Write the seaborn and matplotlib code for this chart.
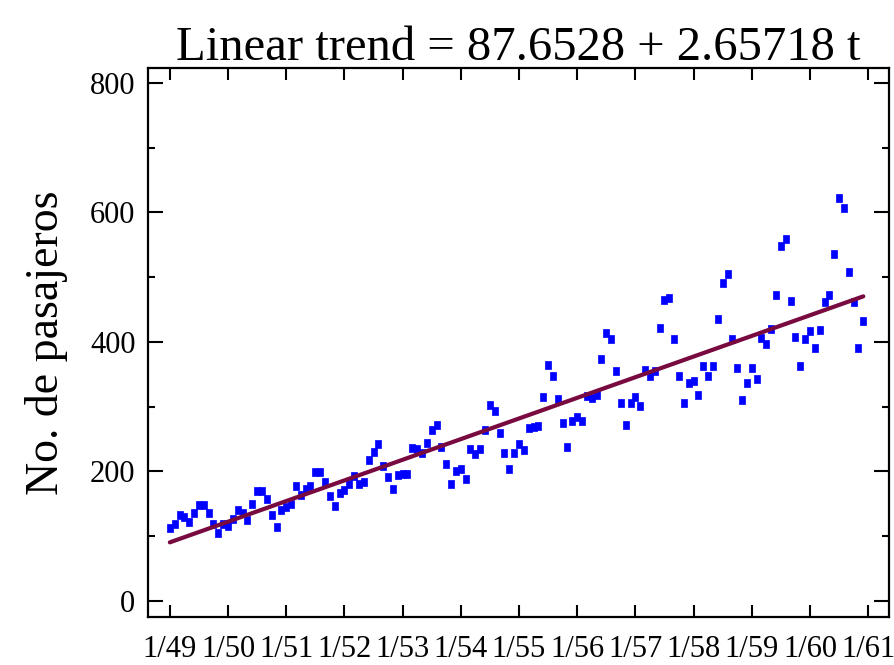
import numpy as np
import pandas as pd
import matplotlib
matplotlib.use("Agg")
import matplotlib.pyplot as plt
import seaborn as sns
from matplotlib.ticker import MultipleLocator

# -------------------------------
# 1. Data: monthly passengers, 1/49 .. 12/60
# -------------------------------
months = list(range(1, 145))
passengers = [
    112, 118, 132, 129, 121, 135, 148, 148, 136, 119, 104, 118,
    115, 126, 141, 135, 125, 149, 170, 170, 158, 133, 114, 140,
    145, 150, 178, 163, 172, 178, 199, 199, 184, 162, 146, 166,
    171, 180, 193, 181, 183, 218, 230, 242, 209, 191, 172, 194,
    196, 196, 236, 235, 229, 243, 264, 272, 237, 211, 180, 201,
    204, 188, 235, 227, 234, 264, 302, 293, 259, 229, 203, 229,
    242, 233, 267, 269, 270, 315, 364, 347, 312, 274, 237, 278,
    284, 277, 317, 313, 318, 374, 413, 405, 355, 306, 271, 306,
    315, 301, 356, 348, 355, 422, 465, 467, 404, 347, 305, 336,
    340, 318, 362, 348, 363, 435, 491, 505, 404, 359, 310, 337,
    360, 342, 406, 396, 420, 472, 548, 559, 463, 407, 362, 405,
    417, 391, 419, 461, 472, 535, 622, 606, 508, 461, 390, 432,
]
tick_pos = [1, 13, 25, 37, 49, 61, 73, 85, 97, 109, 121, 133, 145]
tick_labels = ["1/49", "1/50", "1/51", "1/52", "1/53", "1/54", "1/55",
               "1/56", "1/57", "1/58", "1/59", "1/60", "1/61"]

df = pd.DataFrame({"t": months, "passengers": passengers})

# -------------------------------
# 2. Plot
# -------------------------------
sns.set_style("ticks")
plt.rcParams["font.family"] = ["Liberation Serif", "DejaVu Serif"]
plt.rcParams.update({"text.color": "black", "axes.labelcolor": "black",
                     "xtick.color": "black", "ytick.color": "black",
                     "axes.edgecolor": "black"})

fig = plt.figure(figsize=(8.95, 6.65), dpi=100)
ax = fig.add_axes([148 / 895, 48 / 665, (889 - 148) / 895, (617 - 68) / 665])

# small upright rectangle, like the original marks
rect = [(-0.37, -0.5), (0.37, -0.5), (0.37, 0.5), (-0.37, 0.5), (-0.37, -0.5)]
sns.regplot(data=df, x="t", y="passengers", ci=None, ax=ax,
            marker=rect,
            scatter_kws={"color": "#0000ff", "s": 36, "linewidths": 0.5,
                         "edgecolors": "#0000ff", "alpha": 1},
            line_kws={"color": "#780a40", "lw": 3.0})

ax.set_xlim(-3.5, 149.3)
ax.set_ylim(-25, 823)
ax.set_xticks(tick_pos)
ax.set_xticklabels(tick_labels)
ax.yaxis.set_major_locator(MultipleLocator(200))
ax.yaxis.set_minor_locator(MultipleLocator(100))

ax.set_xlabel("")
ax.set_ylabel("No. de pasajeros", fontsize=33, labelpad=16)
ax.set_title("Linear trend = 87.6528 + 2.65718 t", fontsize=35, pad=6)

for s in ax.spines.values():
    s.set_visible(True)
    s.set_linewidth(1.6)
    s.set_color("black")

ax.tick_params(axis="x", which="major", direction="in", length=8.5, width=1.5,
               top=True, labelsize=22, pad=13)
ax.tick_params(axis="y", which="major", direction="in", length=11, width=1.5,
               right=True, labelsize=22, pad=9)
ax.tick_params(axis="y", which="minor", direction="in", length=5, width=1.5,
               right=True)

fig.savefig("out.png", dpi=100)
